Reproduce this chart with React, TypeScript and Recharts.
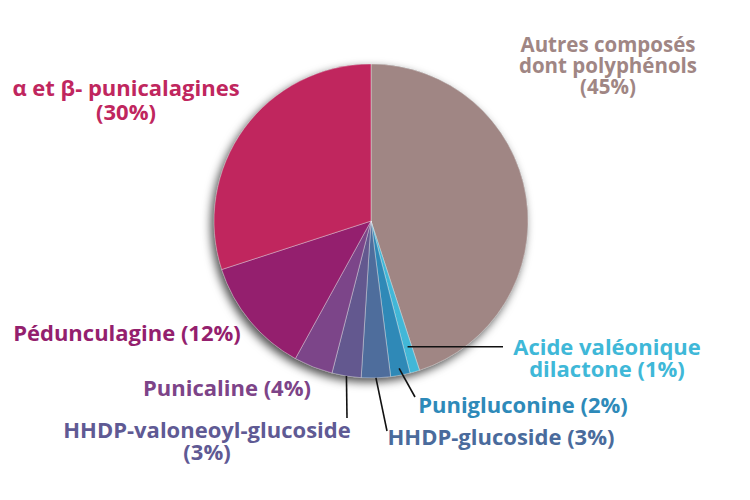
import React from "react";
import { PieChart, Pie, Cell } from "recharts";

// composition (%) — clockwise from 12 o'clock
const categories = [
  "Autres composés dont polyphénols",
  "Acide valéonique dilactone",
  "Punigluconine",
  "HHDP-glucoside",
  "HHDP-valoneoyl-glucoside",
  "Punicaline",
  "Pédunculagine",
  "α et β- punicalagines",
];
const shares = [45, 1, 2, 3, 3, 4, 12, 30];
const sliceColors = ["#a08684", "#42b7d7", "#2f89b7", "#4e6d9c", "#63588f", "#7c4589", "#941f6e", "#c0265e"];
const textColors  = ["#a08684", "#3fb8d8", "#2e8ab9", "#4a6b9c", "#5f5a94", "#7d4488", "#941f6e", "#c0265e"];

// how each label is broken into lines (the % is appended)
const labelLines = [
  ["Autres composés", "dont polyphénols"],
  ["Acide valéonique", "dilactone"],
  ["Punigluconine"],
  ["HHDP-glucoside"],
  ["HHDP-valoneoyl-glucoside"],
  ["Punicaline"],
  ["Pédunculagine"],
  ["α et β- punicalagines"],
];
const pctOwnLine = [true, false, false, false, true, false, false, true];

// label layout: text centre x, first baseline, line step, font size, optional leader line
const labelLayout = [
  { x: 608, y: 52, step: 21, fs: 20.5 },
  { x: 607, y: 355, step: 22, fs: 22, lr: 131, to: [503, 346] },
  { x: 523, y: 413, step: 22, fs: 22, lr: 150, to: [415, 397] },
  { x: 501, y: 445, step: 22, fs: 22, lr: 157, to: [387, 431] },
  { x: 207, y: 438, step: 22, fs: 22, lr: 157, to: [347, 418] },
  { x: 227, y: 396, step: 22, fs: 22 },
  { x: 127, y: 341, step: 22, fs: 22 },
  { x: 126, y: 96, step: 24, fs: 22 },
];

const data = categories.map((name, i) => ({ name, value: shares[i] }));
const RAD = Math.PI / 180;

function renderLabel(props: any) {
  const { cx, cy, midAngle, index } = props;
  const l = labelLayout[index];
  const base = labelLines[index];
  const lines = pctOwnLine[index]
    ? [...base, `(${shares[index]}%)`]
    : [...base.slice(0, -1), `${base[base.length - 1]} (${shares[index]}%)`];
  let line = null;
  if (l.to) {
    const sx = cx + l.lr! * Math.cos(-midAngle * RAD);
    const sy = cy + l.lr! * Math.sin(-midAngle * RAD);
    // the dilactone leader runs flat
    const ey = index === 1 ? sy : l.to[1];
    line = <line x1={sx} y1={sy} x2={l.to[0]} y2={ey} stroke="#111" strokeWidth={1.6} />;
  }
  return (
    <g key={`lbl-${index}`}>
      {line}
      {lines.map((t, k) => (
        <text key={k} x={l.x} y={l.y + k * l.step} textAnchor="middle" fill={textColors[index]}
          style={{ fontFamily: "'Open Sans', sans-serif", fontWeight: 700, fontSize: l.fs }}>
          {t}
        </text>
      ))}
    </g>
  );
}

export default function App() {
  return (
    <div style={{ position: "absolute", left: 0, top: 0, width: 750, height: 500, background: "#fff" }}>
      <PieChart width={750} height={500} margin={{ top: 0, right: 0, bottom: 0, left: 0 }}>
        <defs>
          <filter id="pieShadow" x="-20%" y="-20%" width="140%" height="140%">
            <feDropShadow dx={-3} dy={4} stdDeviation={5} floodColor="#000" floodOpacity={0.7} />
          </filter>
        </defs>
        <Pie
          data={[{ name: "ombre", value: 100 }]}
          dataKey="value"
          cx={371}
          cy={221}
          outerRadius={157}
          startAngle={90}
          endAngle={-270}
          stroke="none"
          fill="#777"
          style={{ filter: "url(#pieShadow)" }}
          isAnimationActive={false}
        />
        <Pie
          data={data}
          dataKey="value"
          cx={371}
          cy={221}
          outerRadius={157}
          startAngle={90}
          endAngle={-270}
          stroke="rgba(255,255,255,0.35)"
          strokeWidth={1}
          label={renderLabel}
          labelLine={false}
          isAnimationActive={false}
        >
          {data.map((d, i) => <Cell key={d.name} fill={sliceColors[i]} />)}
        </Pie>
      </PieChart>
    </div>
  );
}
